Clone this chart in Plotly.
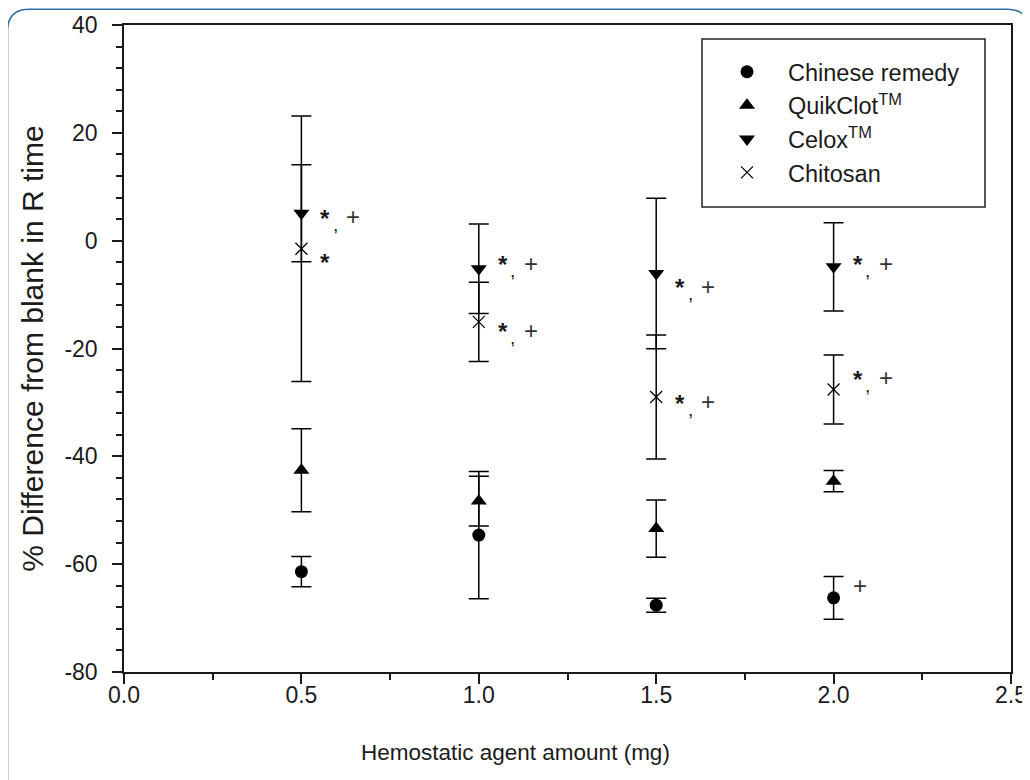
import plotly.graph_objects as go

# ---------------- data ----------------
amounts = [0.5, 1.0, 1.5, 2.0]

chinese = [-61.4, -54.6, -67.6, -66.25]
chinese_err = [2.8, 11.8, 1.3, 3.95]
quikclot = [-42.6, -48.3, -53.4, -44.6]
quikclot_err = [7.7, 4.6, 5.3, 1.95]
celox = [5.1, -5.2, -6.1, -4.86]
celox_err = [9.0, 8.3, 13.95, 8.2]
chitosan = [-1.5, -15.05, -29.0, -27.6]
chitosan_err = [24.6, 7.35, 11.5, 6.4]

series_names = ["Chinese remedy", "QuikClot<sup>TM</sup>", "Celox<sup>TM</sup>", "Chitosan"]

# significance marks: which series / which point / which marks
sig_series = [2, 2, 2, 2, 3, 3, 3, 3, 0]
sig_index = [0, 1, 2, 3, 0, 1, 2, 3, 3]
sig_marks = ["*,+", "*,+", "*,+", "*,+", "*", "*,+", "*,+", "*,+", "+"]

x_ticks = [0.0, 0.5, 1.0, 1.5, 2.0, 2.5]
x_ticklabels = ["0.0", "0.5", "1.0", "1.5", "2.0", "2.5"]
y_ticks = [-80, -60, -40, -20, 0, 20, 40]
y_ticklabels = ["-80", "-60", "-40", "-20", "0", "20", "40"]

x_title = "Hemostatic agent amount (mg)"
y_title = "% Difference from blank in R time"

# ---------------- styles ----------------
FONT = "Liberation Sans, Arial, sans-serif"
TXT = "#1b1b1b"
W, H = 1030, 780
OFF = 8  # page offset of the figure inside the browser page
ML, MR, MT, MB = 116, 27, 17, 116
PW, PH = W - ML - MR, H - MT - MB

def px(xp):
    return (xp - OFF - ML) / PW

def py(yp):
    return (H - MB - (yp - OFF)) / PH

values = [chinese, quikclot, celox, chitosan]
errors = [chinese_err, quikclot_err, celox_err, chitosan_err]
symbols = ["circle", "triangle-up", "triangle-down", "x-thin-open"]
sizes = [13, 14, 14, 12]

fig = go.Figure()
for i in range(4):
    marker = dict(symbol=symbols[i], size=sizes[i], color="black")
    if symbols[i] == "x-thin-open":
        marker["line"] = dict(color="black", width=1.2)
    else:
        marker["line"] = dict(color="black", width=0)
    fig.add_trace(go.Scatter(
        x=amounts, y=values[i], mode="markers", name=series_names[i],
        marker=marker,
        error_y=dict(type="data", array=errors[i], visible=True,
                     color="black", thickness=1.5, width=10),
    ))

# significance annotations (offsets in px relative to the data point)
sig_dy = [-2, 7, -11, 5, -11, -7, -3, 13, 11]
annotations = []
for k in range(len(sig_series)):
    s = sig_series[k]
    j = sig_index[k]
    xv, yv = amounts[j], values[s][j]
    dy = sig_dy[k]
    marks = sig_marks[k]
    if marks == "+":
        annotations.append(dict(x=xv, y=yv, xref="x", yref="y", text="+", showarrow=False,
                                xshift=26, yshift=dy + 1,
                                font=dict(family=FONT, size=24, color="#333")))
        continue
    annotations.append(dict(x=xv, y=yv, xref="x", yref="y", text="<b>*</b>", showarrow=False,
                            xshift=24, yshift=dy - 3,
                            font=dict(family=FONT, size=24, color=TXT)))
    if "+" in marks:
        annotations.append(dict(x=xv, y=yv, xref="x", yref="y", text=",", showarrow=False,
                                xshift=34, yshift=dy - 9,
                                font=dict(family=FONT, size=19, color=TXT)))
        annotations.append(dict(x=xv, y=yv, xref="x", yref="y", text="+", showarrow=False,
                                xshift=52, yshift=dy - 1.5,
                                font=dict(family=FONT, size=24, color="#333")))

# x-axis title (placed as in the reference, slightly left of centre)
annotations.append(dict(x=px(515), y=py(752), xref="paper", yref="paper",
                        text=x_title, showarrow=False, xanchor="center", yanchor="middle",
                        font=dict(family=FONT, size=22.5, color=TXT)))

# outer rounded frame (page pixels)
fx0, fx1, fy0, fy1, r = 7.5, 1029, 9.3, 830, 22
rx, ry = r / PW, r / PH
X0, X1, Y0, Y1 = px(fx0), px(fx1), py(fy0), py(fy1)
frame_path = (f"M {X0 + rx} {Y0} L {X1 - rx} {Y0} Q {X1} {Y0} {X1} {Y0 - ry} "
              f"L {X1} {Y1 + ry} Q {X1} {Y1} {X1 - rx} {Y1} "
              f"L {X0 + rx} {Y1} Q {X0} {Y1} {X0} {Y1 + ry} "
              f"L {X0} {Y0 - ry} Q {X0} {Y0} {X0 + rx} {Y0} Z")

shapes = [
    dict(type="path", path=frame_path, xref="paper", yref="paper",
         line=dict(color="#2f6fa6", width=1.6), fillcolor="rgba(0,0,0,0)", layer="below"),
    dict(type="rect", xref="paper", yref="paper",
         x0=px(702), x1=px(985), y0=py(207), y1=py(39),
         line=dict(color="#222", width=1.5), fillcolor="rgba(0,0,0,0)"),
]

axis_common = dict(
    showline=True, linecolor="#1a1a1a", linewidth=1.5, mirror=True,
    ticks="outside", ticklen=10, tickwidth=1.5, tickcolor="#1a1a1a",
    showgrid=False, zeroline=False,
    tickfont=dict(family=FONT, size=23, color=TXT),
)

fig.update_layout(
    width=W, height=H,
    margin=dict(l=ML, r=MR, t=MT, b=MB, autoexpand=False),
    paper_bgcolor="white", plot_bgcolor="white",
    xaxis=dict(range=[0, 2.5], tickvals=x_ticks, ticktext=x_ticklabels,
               minor=dict(dtick=0.25, ticks="outside", ticklen=6, tickwidth=1.5, tickcolor="#1a1a1a"),
               ticklabelstandoff=-8,
               **axis_common),
    yaxis=dict(range=[-80, 40], tickvals=y_ticks, ticktext=y_ticklabels,
               minor=dict(dtick=4, ticks="outside", ticklen=6, tickwidth=1.5, tickcolor="#1a1a1a"),
               ticklabelstandoff=10,
               title=dict(text=y_title, standoff=12,
                          font=dict(family=FONT, size=30, color=TXT)),
               **axis_common),
    legend=dict(x=px(706), y=py(50), xanchor="left", yanchor="top",
                bgcolor="rgba(0,0,0,0)", borderwidth=0,
                itemwidth=72,
                font=dict(family=FONT, size=23.5, color=TXT)),
    shapes=shapes,
    annotations=annotations,
    showlegend=True,
)

fig.write_html("out.html")
